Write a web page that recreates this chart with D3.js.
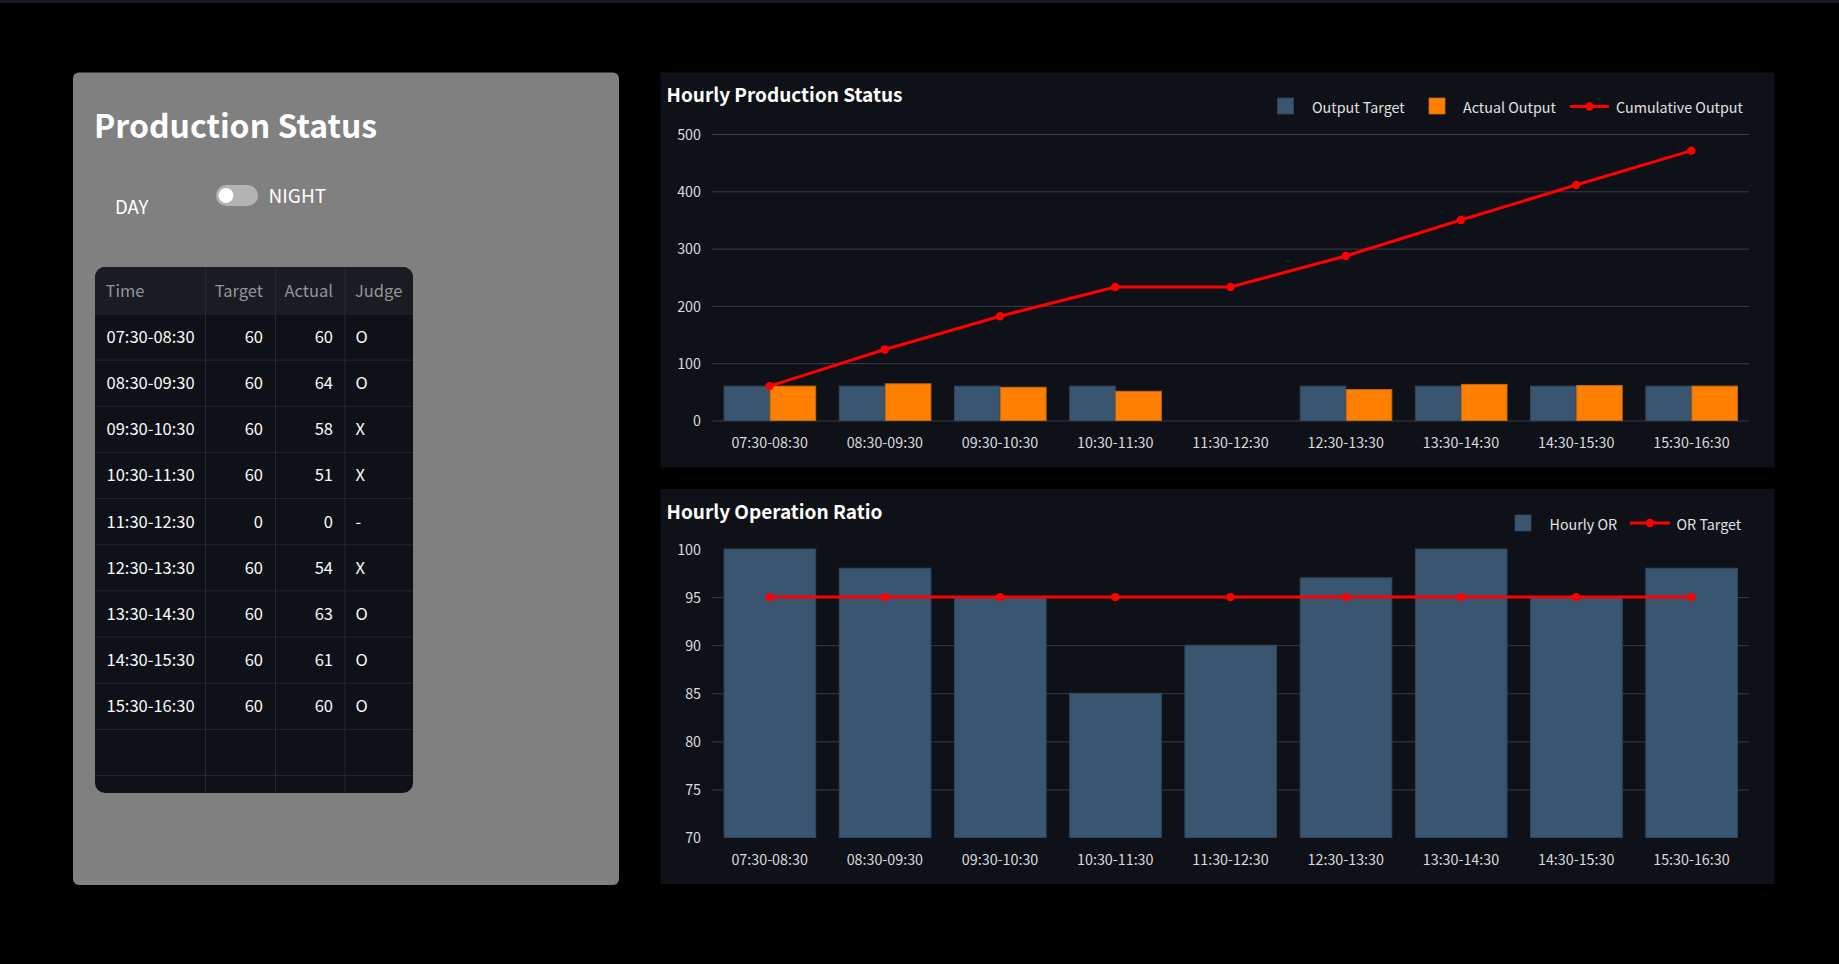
<!DOCTYPE html>
<html>
<head>
<meta charset="utf-8">
<script src="https://cdn.jsdelivr.net/npm/d3@7"></script>
<style>
  html, body { margin: 0; padding: 0; background: #000; overflow: hidden; }
  svg { display: block; font-family: "Noto Sans CJK KR", "Noto Sans", sans-serif; }
  .axis .domain { display: none; }
  .axis line { stroke: #3a3d45; }
  .axis text { fill: #d9dbde; font-size: 14.3px; font-family: "Noto Sans CJK KR", "Noto Sans", sans-serif; }
</style>
</head>
<body>
<svg id="page" width="1839" height="964"></svg>
<script>
// data
const hours = ["07:30-08:30", "08:30-09:30", "09:30-10:30", "10:30-11:30", "11:30-12:30",
               "12:30-13:30", "13:30-14:30", "14:30-15:30", "15:30-16:30"];
const outputTarget = [60, 60, 60, 60, 0, 60, 60, 60, 60];
const actualOutput = [60, 64, 58, 51, 0, 54, 63, 61, 60];
const cumulativeOutput = [60, 124, 182, 233, 233, 287, 350, 411, 471];
const hourlyOR = [100, 98, 95, 85, 90, 97, 100, 95, 98];
const orTarget = [95, 95, 95, 95, 95, 95, 95, 95, 95];
const judge = ["O", "O", "X", "X", "-", "X", "O", "O", "O"];
const productionTicks = [0, 100, 200, 300, 400, 500];
const ratioTicks = [70, 75, 80, 85, 90, 95, 100];

const BLUE = "#3a556f", ORANGE = "#ff8000", RED = "#ff0000";
const BLUE_EDGE = "#2f465c", ORANGE_EDGE = "#c4680f";

const svg = d3.select("#page");

// thin strip along the top of the page
svg.append("rect").attr("width", 1839).attr("height", 3).attr("fill", "#151a24");

// ---- left panel ----
svg.append("rect").attr("x", 73).attr("y", 72.5).attr("width", 546).attr("height", 812.5)
    .attr("rx", 6).attr("fill", "#808080");

svg.append("text").attr("x", 94).attr("y", 137.5)
    .attr("font-size", 32).attr("font-weight", 700).attr("fill", "#fff")
    .text("Production Status");

svg.append("text").attr("x", 115).attr("y", 213.5)
    .attr("font-size", 18.6).attr("fill", "#fff").text("DAY");
svg.append("rect").attr("x", 216).attr("y", 185).attr("width", 42).attr("height", 21)
    .attr("rx", 10.5).attr("fill", "#b3b3b3");
svg.append("circle").attr("cx", 226).attr("cy", 195.5).attr("r", 7.5).attr("fill", "#fff");
svg.append("text").attr("x", 268.5).attr("y", 203)
    .attr("font-size", 19).attr("fill", "#fff").text("NIGHT");

// ---- table ----
const tableX = 95, tableY = 267, tableW = 318, tableH = 526;
const headH = 46.5, rowH = 46.15;
const colEdges = [205.5, 275.5, 345];
const tableRows = hours.map((h, i) => [h, outputTarget[i], actualOutput[i], judge[i]]);

const clip = svg.append("defs").append("clipPath").attr("id", "tableClip");
clip.append("rect").attr("x", tableX).attr("y", tableY).attr("width", tableW).attr("height", tableH).attr("rx", 10);

const table = svg.append("g").attr("clip-path", "url(#tableClip)");
table.append("rect").attr("x", tableX).attr("y", tableY).attr("width", tableW).attr("height", tableH).attr("fill", "#0e1117");
table.append("rect").attr("x", tableX).attr("y", tableY).attr("width", tableW).attr("height", headH).attr("fill", "#1a1c24");

table.selectAll(".rowLine").data(d3.range(0, 11)).enter().append("line")
    .attr("x1", tableX).attr("x2", tableX + tableW)
    .attr("y1", i => tableY + headH + i * rowH + 0.5)
    .attr("y2", i => tableY + headH + i * rowH + 0.5)
    .attr("stroke", "#262730");
table.selectAll(".colLine").data(colEdges).enter().append("line")
    .attr("x1", d => d).attr("x2", d => d)
    .attr("y1", tableY).attr("y2", tableY + tableH)
    .attr("stroke", "#262730");

const heads = [["Time", 105.5, "start"], ["Target", 263, "end"], ["Actual", 333, "end"], ["Judge", 355, "start"]];
heads.forEach(h => {
    table.append("text").attr("x", h[1]).attr("y", tableY + headH / 2 + 7)
        .attr("text-anchor", h[2]).attr("font-size", 16.5).attr("fill", "#93959b").text(h[0]);
});

const cellX = [[106.5, "start"], [263, "end"], [333, "end"], [355.5, "start"]];
tableRows.forEach((row, i) => {
    row.forEach((v, j) => {
        table.append("text").attr("x", cellX[j][0]).attr("y", tableY + headH + rowH * (i + 0.5) + 6.4)
            .attr("text-anchor", cellX[j][1]).attr("font-size", 16.5).attr("fill", "#fafafa").text(v);
    });
});

// ---- charts ----
function chartFrame(top, title) {
    svg.append("rect").attr("x", 660.5).attr("y", top).attr("width", 1114).attr("height", 395).attr("fill", "#0e1117");
    svg.append("text").attr("x", 666.5).attr("y", top + 29.5)
        .attr("font-size", 19).attr("font-weight", 700).attr("fill", "#fff").text(title);
}

function bottomAxis(g, x, y0) {
    g.append("g").attr("class", "axis")
        .attr("transform", `translate(0,${y0})`)
        .call(d3.axisBottom(x).tickSize(0).tickPadding(17.5));
}

function leftAxis(g, y, ticks, hideGrid) {
    const ax = g.append("g").attr("class", "axis")
        .attr("transform", "translate(712,0)")
        .call(d3.axisLeft(y).tickValues(ticks).tickSize(-1037).tickPadding(11));
    ax.selectAll(".tick text").attr("dy", "0.36em");
    ax.selectAll(".tick line").filter(d => hideGrid.includes(d)).remove();
}

function swatch(x, y, color, edge, label, labelX) {
    svg.append("rect").attr("x", x).attr("y", y).attr("width", 16).attr("height", 16)
        .attr("fill", color).attr("stroke", edge).attr("stroke-width", 0.8);
    svg.append("text").attr("x", labelX).attr("y", y + 15).attr("font-size", 14.3).attr("fill", "#e0e2e5").text(label);
}

function lineKey(x1, x2, y, label, labelX) {
    svg.append("line").attr("x1", x1).attr("x2", x2).attr("y1", y).attr("y2", y)
        .attr("stroke", RED).attr("stroke-width", 3);
    svg.append("circle").attr("cx", (x1 + x2) / 2).attr("cy", y).attr("r", 4.2).attr("fill", RED);
    svg.append("text").attr("x", labelX).attr("y", y + 6.5).attr("font-size", 14.3).attr("fill", "#e0e2e5").text(label);
}

function redLine(g, x, y, values) {
    const line = d3.line().x((d, i) => x(hours[i]) + x.bandwidth() / 2).y(d => y(d));
    g.append("path").attr("d", line(values)).attr("fill", "none").attr("stroke", RED).attr("stroke-width", 3);
    g.selectAll(".dot").data(values).enter().append("circle")
        .attr("cx", (d, i) => x(hours[i]) + x.bandwidth() / 2)
        .attr("cy", d => y(d)).attr("r", 4.2).attr("fill", RED);
}

const x = d3.scaleBand().domain(hours).range([712, 1749]).paddingInner(0.2).paddingOuter(0.1);

// Hourly Production Status
chartFrame(72.5, "Hourly Production Status");
const y1 = d3.scaleLinear().domain([0, 500]).range([420.5, 134]);
const g1 = svg.append("g");
leftAxis(g1, y1, productionTicks, []);
bottomAxis(g1, x, 420.5);

const inner = d3.scaleBand().domain([0, 1]).range([0, x.bandwidth()]);
[[outputTarget, BLUE, BLUE_EDGE], [actualOutput, ORANGE, ORANGE_EDGE]].forEach((s, k) => {
    g1.selectAll(".bar" + k).data(s[0]).enter().append("rect")
        .attr("x", (d, i) => x(hours[i]) + inner(k) + 0.5)
        .attr("y", d => y1(d))
        .attr("width", inner.bandwidth() - 0.5)
        .attr("height", d => y1(0) - y1(d))
        .attr("fill", s[1]).attr("stroke", s[2]).attr("stroke-width", 1);
});
redLine(g1, x, y1, cumulativeOutput);

swatch(1277.5, 98, BLUE, BLUE_EDGE, "Output Target", 1312);
swatch(1429, 98, ORANGE, ORANGE_EDGE, "Actual Output", 1463);
lineKey(1570, 1609, 106.5, "Cumulative Output", 1616);

// Hourly Operation Ratio
chartFrame(489, "Hourly Operation Ratio");
const y2 = d3.scaleLinear().domain([70, 100]).range([837.5, 549]);
const g2 = svg.append("g");
leftAxis(g2, y2, ratioTicks, [70, 100]);
bottomAxis(g2, x, 837.5);

g2.selectAll(".orBar").data(hourlyOR).enter().append("rect")
    .attr("x", (d, i) => x(hours[i]) + 0.5)
    .attr("y", d => y2(d))
    .attr("width", x.bandwidth() - 0.5)
    .attr("height", d => y2(70) - y2(d))
    .attr("fill", BLUE).attr("stroke", BLUE_EDGE).attr("stroke-width", 1);
redLine(g2, x, y2, orTarget);

swatch(1515, 515, BLUE, BLUE_EDGE, "Hourly OR", 1549.5);
lineKey(1630, 1670, 523, "OR Target", 1676.5);
</script>
</body>
</html>
